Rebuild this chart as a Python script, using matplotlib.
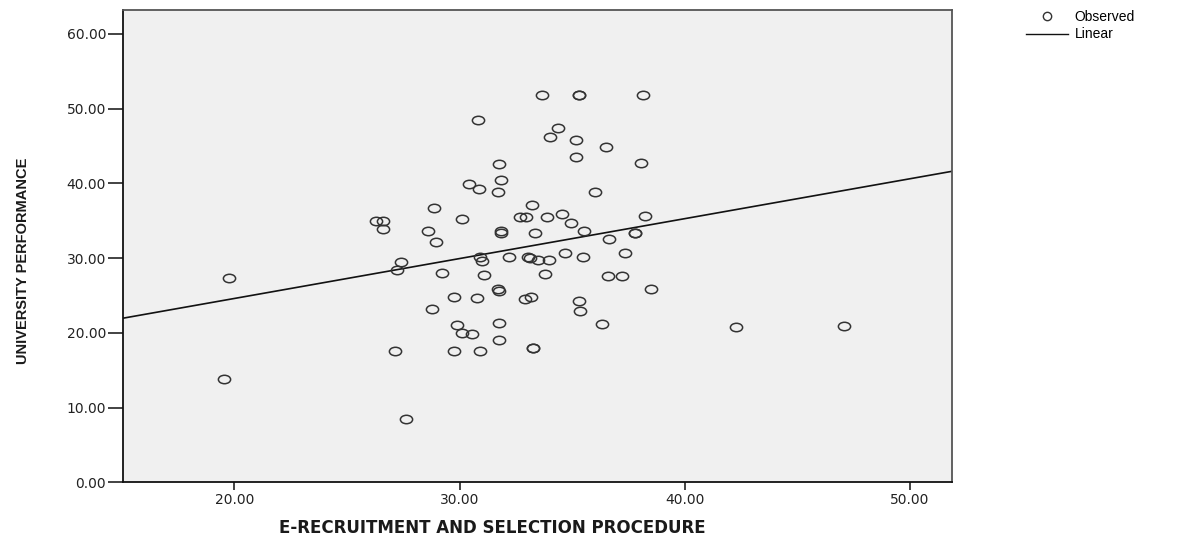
import numpy as np
import matplotlib
matplotlib.use("Agg")
import matplotlib.pyplot as plt
from matplotlib.path import Path
from matplotlib.transforms import Affine2D
from matplotlib.lines import Line2D

# ---- data ----
recruitment = [
    33.65, 35.32, 35.32, 38.16, 30.81, 34.39, 34.00, 35.19, 36.51, 35.19,
    31.77, 38.05, 31.84, 30.42, 30.87, 31.70, 36.02, 33.21, 28.88, 32.66,
    32.94, 33.87, 34.54, 38.21, 30.12, 26.29, 26.59, 26.59, 34.95, 28.61,
    35.53, 31.83, 31.83, 33.35, 28.94, 36.65, 37.79, 37.79, 37.35, 34.68,
    35.47, 32.20, 33.05, 33.13, 33.50, 33.99, 30.91, 30.98, 27.40, 27.21,
    29.21, 31.09, 33.80, 36.57, 37.20, 19.75, 31.72, 31.77, 38.50, 29.77,
    30.79, 32.91, 33.17, 35.31, 35.35, 28.77, 29.88, 31.75, 36.31, 42.28,
    47.09, 30.10, 30.54, 31.75, 27.12, 29.76, 30.91, 33.28, 33.28, 19.56,
    27.62,
]
performance = [
    51.84, 51.84, 51.84, 51.84, 48.46, 47.43, 46.18, 45.87, 44.84, 43.51,
    42.61, 42.70, 40.39, 39.94, 39.23, 38.83, 38.87, 37.13, 36.64, 35.52,
    35.44, 35.52, 35.92, 35.66, 35.22, 34.99, 34.99, 33.92, 34.64, 33.61,
    33.65, 33.65, 33.30, 33.30, 32.10, 32.50, 33.30, 33.30, 30.71, 30.63,
    30.09, 30.09, 30.09, 29.96, 29.73, 29.73, 30.09, 29.64, 29.42, 28.39,
    27.95, 27.73, 27.86, 27.59, 27.59, 27.28, 25.81, 25.63, 25.85, 24.74,
    24.61, 24.52, 24.74, 24.25, 22.91, 23.14, 21.04, 21.27, 21.22, 20.81,
    20.94, 20.01, 19.83, 19.03, 17.58, 17.56, 17.56, 17.92, 17.92, 13.78,
    8.50,
]
fit_intercept = 13.92
fit_slope = 0.534

x_ticks = [20, 30, 40, 50]
y_ticks = [0, 10, 20, 30, 40, 50, 60]
x_label = "E-RECRUITMENT AND SELECTION PROCEDURE"
y_label = "UNIVERSITY PERFORMANCE"
legend_labels = ["Observed", "Linear"]

# ---- figure ----
W, H = 1181, 537
fig = plt.figure(figsize=(W / 100, H / 100), dpi=100)
left_px, right_px, top_px, bottom_px = 122.7, 951.7, 10.0, 482.3
ax = fig.add_axes([left_px / W, 1 - bottom_px / H,
                   (right_px - left_px) / W, (bottom_px - top_px) / H])
ax.set_facecolor("#f0f0f0")

xmin, xmax = 15.04, 51.85
ax.set_xlim(xmin, xmax)
ax.set_ylim(0, 63.2)

ellipse = Path.unit_circle().transformed(Affine2D().scale(1.45, 1.0))

ax.plot(recruitment, performance, linestyle="none", marker=ellipse,
        markersize=8.8, markerfacecolor="none", markeredgecolor="#333333",
        markeredgewidth=1.1, zorder=3)

xs = np.array([xmin, xmax])
ax.plot(xs, fit_intercept + fit_slope * xs, color="#111111", lw=1.2, zorder=2)

ax.set_xticks(x_ticks)
ax.set_xticklabels([f"{v:.2f}" for v in x_ticks])
ax.set_yticks(y_ticks)
ax.set_yticklabels([f"{v:.2f}" for v in y_ticks])
ax.tick_params(axis="y", direction="out", length=11, width=1.2, pad=1,
               labelsize=10, colors="#222222")
ax.tick_params(axis="x", direction="out", length=6, width=1.2, pad=2,
               labelsize=10, colors="#222222")

for side in ["left", "bottom"]:
    ax.spines[side].set_linewidth(1.3)
    ax.spines[side].set_color("#111111")
for side in ["top", "right"]:
    ax.spines[side].set_linewidth(1.3)
    ax.spines[side].set_color("#555555")

fig.text(492 / W, 1 - 528 / H, x_label,
         ha="center", va="center", fontsize=12, fontweight="bold",
         color="#1a1a1a", family=["DejaVu Sans"])
fig.text(23 / W, 1 - 261 / H, y_label, rotation=90, ha="center",
         va="center", fontsize=10.5, fontweight="bold", color="#1a1a1a",
         family=["Liberation Sans"])

handles = [
    Line2D([], [], linestyle="none", marker="o", markersize=6,
           markerfacecolor="none", markeredgecolor="#333333",
           markeredgewidth=1.0),
    Line2D([], [], color="#111111", lw=1.0),
]
leg = fig.legend(handles, legend_labels, loc="upper left",
                 bbox_to_anchor=(1026 / W, 1 - 10 / H), frameon=False,
                 handlelength=3.0, handletextpad=0.5, labelspacing=0.25,
                 borderpad=0.0, borderaxespad=0.0,
                 prop={"family": "Liberation Sans", "size": 10})

fig.savefig("out.png", dpi=100)
